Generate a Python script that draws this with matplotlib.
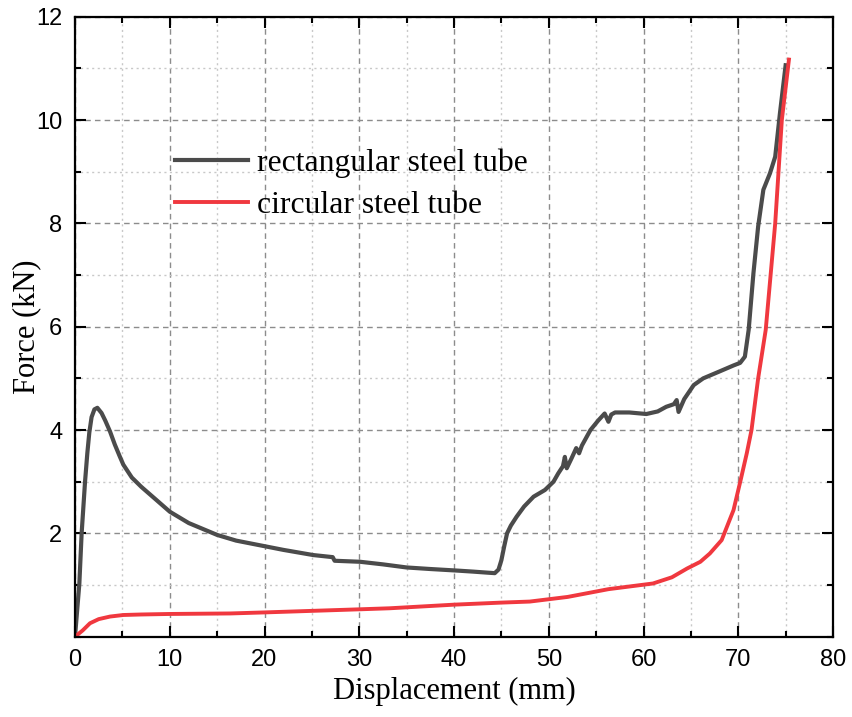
import matplotlib
matplotlib.use("Agg")
import matplotlib.pyplot as plt
from matplotlib.ticker import MultipleLocator, FixedLocator

# Rectangular steel tube (displacement mm, force kN)
rect_x = [0, 0.2, 0.46, 0.7, 1.06, 1.3, 1.51, 1.75, 2.05, 2.36, 2.8, 3.2, 3.7, 4.2, 4.7, 5.1, 6, 7, 8.44, 10,
          12, 15, 17, 19.5, 22, 25.15, 27.2, 27.4, 30.1, 32.5, 35, 37.5, 40.3, 42, 43.5, 44.3, 44.7,
          45.0, 45.3, 45.6, 46.0, 46.6, 47.4, 48.4, 49.6, 50.5, 51.0, 51.5, 51.7, 51.9, 52.4, 52.9,
          53.2, 53.5, 54.4, 55.2, 55.9, 56.3, 56.6, 57.0, 58.5, 60.3, 61.5, 62.4, 63.2, 63.5, 63.7,
          64.3, 65.3, 66.3, 68.1, 69.5, 70.2, 70.7, 71.1, 71.6, 72.1, 72.65, 73.35, 73.9, 74.4, 75.0]
rect_y = [0, 0.45, 1.03, 2.0, 3.0, 3.55, 3.95, 4.25, 4.4, 4.43, 4.33, 4.18, 3.97, 3.72, 3.5, 3.33, 3.08, 2.9, 2.67, 2.42,
          2.2, 1.97, 1.86, 1.77, 1.68, 1.58, 1.54, 1.47, 1.45, 1.40, 1.34, 1.31, 1.28, 1.26, 1.24, 1.23, 1.3,
          1.48, 1.75, 2.0, 2.15, 2.32, 2.52, 2.71, 2.84, 3.0, 3.16, 3.3, 3.48, 3.26, 3.45, 3.65,
          3.55, 3.7, 4.0, 4.18, 4.32, 4.16, 4.3, 4.34, 4.34, 4.31, 4.36, 4.45, 4.5, 4.58, 4.35,
          4.6, 4.87, 5.0, 5.14, 5.25, 5.3, 5.42, 5.94, 7.03, 7.94, 8.65, 8.97, 9.29, 10.13, 11.06]

# Circular steel tube
circ_x = [0, 0.8, 1.58, 2.5, 3.7, 5.1, 7, 10, 16.4, 20, 25, 30, 33.2, 40, 45, 48, 52, 56.3, 61, 63,
          64.6, 66, 67, 68.25, 69.5, 70.25, 70.9, 71.4, 72.1, 72.9, 73.9, 74.6, 75.35]
circ_y = [0, 0.12, 0.26, 0.34, 0.39, 0.42, 0.43, 0.44, 0.45, 0.47, 0.5, 0.53, 0.55, 0.62, 0.66, 0.68,
          0.77, 0.92, 1.03, 1.15, 1.32, 1.45, 1.61, 1.87, 2.45, 3.03, 3.55, 4.0, 5.0, 5.94, 8.0, 10.0, 11.17]

labels = ["rectangular steel tube", "circular steel tube"]
x_ticks = [0, 10, 20, 30, 40, 50, 60, 70, 80]
y_ticks = [2, 4, 6, 8, 10, 12]

sans = "Liberation Sans"
serif = "Liberation Serif"

fig = plt.figure(figsize=(8.53, 7.17), dpi=100)
ax = fig.add_axes([75/853, (717-636.7)/717, (833-75)/853, (636.7-16.7)/717])

ax.plot(rect_x, rect_y, color="#4b4b4b", lw=3.0, label=labels[0], solid_joinstyle="round")
ax.plot(circ_x, circ_y, color="#f0383f", lw=2.8, label=labels[1], solid_joinstyle="round")

ax.set_xlim(0, 80)
ax.set_ylim(0, 12)
ax.xaxis.set_major_locator(FixedLocator(x_ticks))
ax.yaxis.set_major_locator(FixedLocator(y_ticks))
ax.xaxis.set_minor_locator(MultipleLocator(5))
ax.yaxis.set_minor_locator(MultipleLocator(1))

ax.grid(which="major", color="#8c8c8c", linestyle=(0, (4, 3)), linewidth=1.0)
ax.grid(which="minor", color="#c8c8c8", linestyle=(0, (1.5, 2.5)), linewidth=1.0)
ax.set_axisbelow(True)

for s in ax.spines.values():
    s.set_linewidth(1.6)
ax.tick_params(which="both", direction="in", top=True, right=True, width=1.5)
ax.tick_params(which="major", length=8, labelsize=17, pad=9)
ax.tick_params(which="minor", length=4.5)
for lab in ax.get_xticklabels() + ax.get_yticklabels():
    lab.set_fontfamily(sans)

ax.set_xlabel("Displacement (mm)", fontfamily=serif, fontsize=22, labelpad=4)
ax.set_ylabel("Force (kN)", fontfamily=serif, fontsize=22)
ax.yaxis.set_label_coords(-0.045, 0.5)

leg = ax.legend(loc="upper left", bbox_to_anchor=(0.115, 0.8076), frameon=False,
                prop={"family": serif, "size": 22.8}, handlelength=2.3, handletextpad=0.28,
                labelspacing=0.39, borderaxespad=0)

fig.savefig("out.png", dpi=100)
